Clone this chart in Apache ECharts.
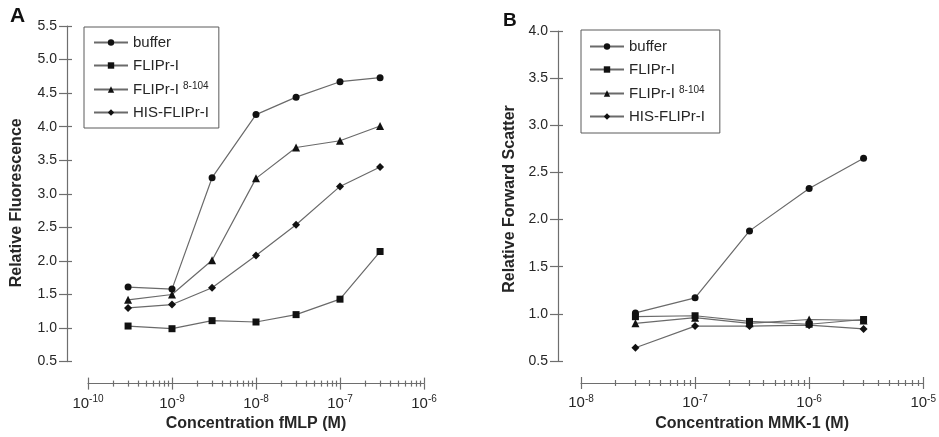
<!DOCTYPE html>
<html>
<head>
<meta charset="utf-8">
<script src="https://cdn.jsdelivr.net/npm/echarts@6/dist/echarts.min.js"></script>
<style>
  html, body { margin: 0; padding: 0; background: #ffffff; }
  #chart { width: 939px; height: 437px; }
</style>
</head>
<body>
<div id="chart"></div>
<script>
// Panel A: fMLP dose response (relative fluorescence)
const concA = [3e-10, 1e-9, 3e-9, 1e-8, 3e-8, 1e-7, 3e-7];
const bufferA = [1.61, 1.58, 3.24, 4.18, 4.44, 4.67, 4.73];
const flipA = [1.03, 0.99, 1.11, 1.09, 1.20, 1.43, 2.14];
const flip8A = [1.42, 1.50, 2.01, 3.23, 3.69, 3.79, 4.01];
const hisA = [1.30, 1.35, 1.60, 2.08, 2.54, 3.11, 3.40];

// Panel B: MMK-1 dose response (relative forward scatter)
const concB = [3e-8, 1e-7, 3e-7, 1e-6, 3e-6];
const bufferB = [1.01, 1.17, 1.88, 2.33, 2.65];
const flipB = [0.97, 0.98, 0.92, 0.89, 0.94];
const flip8B = [0.90, 0.96, 0.90, 0.94, 0.93];
const hisB = [0.64, 0.87, 0.87, 0.88, 0.84];

// Series names and log-axis tick positions
const seriesNames = ['buffer', 'FLIPr-I', 'FLIPr-I 8-104', 'HIS-FLIPr-I'];
const symbols = ['circle', 'rect', 'triangle', 'diamond'];
const symbolSizes = [7, 7, 8, 8];
const majorTicksA = [1e-10, 1e-9, 1e-8, 1e-7, 1e-6];
const majorTicksB = [1e-8, 1e-7, 1e-6, 1e-5];

function minorTicks(majors) {
  const out = [];
  for (let i = 0; i < majors.length - 1; i++) {
    for (let k = 2; k <= 9; k++) out.push(majors[i] * k);
  }
  return out;
}

const AXIS_COLOR = '#6e6e6e';
const TEXT_COLOR = '#262626';
const FONT = '"Liberation Sans", Arial, Helvetica, sans-serif';

function expLabel(v) {
  const e = Math.round(Math.log10(v));
  return '{b|10}{s|' + e + '}';
}

function xAxesFor(gridIndex, majors, name, nameGap, offset) {
  const base = {
    type: 'log', logBase: 10, gridIndex: gridIndex,
    min: majors[0], max: majors[majors.length - 1],
    position: 'bottom', offset: offset,
    splitLine: { show: false }, minorTick: { show: false }, minorSplitLine: { show: false },
    axisLine: { show: false }, axisLabel: { show: false }, axisTick: { show: false }
  };
  const tickLine = { color: AXIS_COLOR, width: 1.2 };
  const minors = minorTicks(majors);
  return [
    Object.assign({}, base, {
      axisLine: { show: true, lineStyle: tickLine },
      axisTick: { show: true, customValues: majors, length: 6, lineStyle: tickLine },
      axisLabel: {
        show: true, customValues: majors, margin: 11, formatter: expLabel,
        fontFamily: FONT, color: TEXT_COLOR,
        rich: {
          b: { fontSize: 15, lineHeight: 18, fontFamily: FONT, color: TEXT_COLOR },
          s: { fontSize: 10, lineHeight: 11, verticalAlign: 'top', fontFamily: FONT, color: TEXT_COLOR }
        }
      },
      name: name, nameLocation: 'middle', nameGap: nameGap,
      nameTextStyle: { fontFamily: FONT, fontSize: 16, fontWeight: 'bold', color: TEXT_COLOR }
    }),
    Object.assign({}, base, {
      axisTick: { show: true, inside: true, customValues: majors, length: 6, lineStyle: tickLine }
    }),
    Object.assign({}, base, {
      axisTick: { show: true, customValues: minors, length: 3, lineStyle: tickLine }
    }),
    Object.assign({}, base, {
      axisTick: { show: true, inside: true, customValues: minors, length: 3, lineStyle: tickLine }
    })
  ];
}

function yAxesFor(gridIndex, min, max, name, nameGap, offset, namePad) {
  const tickLine = { color: AXIS_COLOR, width: 1.2 };
  const base = {
    type: 'value', gridIndex: gridIndex, min: min, max: max, interval: 0.5,
    position: 'left', offset: offset, splitLine: { show: false }
  };
  return [
    Object.assign({}, base, {
      axisLine: { show: true, lineStyle: tickLine },
      axisTick: { show: true, length: 8, lineStyle: tickLine },
      axisLabel: {
        show: true, margin: 10, fontSize: 14, fontFamily: FONT, color: TEXT_COLOR,
        formatter: v => v.toFixed(1)
      },
      name: name, nameLocation: 'middle', nameGap: nameGap,
      nameTextStyle: {
        fontFamily: FONT, fontSize: 16, fontWeight: 'bold', color: TEXT_COLOR,
        padding: namePad
      }
    }),
    Object.assign({}, base, {
      axisLine: { show: false },
      axisTick: { show: true, inside: true, length: 5, lineStyle: tickLine },
      axisLabel: { show: false }
    })
  ];
}

function makeSeries(names, xs, valueSets, xAxisIndex, yAxisIndex) {
  return valueSets.map((vals, i) => ({
    name: names[i],
    type: 'line',
    xAxisIndex: xAxisIndex,
    yAxisIndex: yAxisIndex,
    data: xs.map((x, j) => [x, vals[j]]),
    symbol: symbols[i],
    symbolSize: symbolSizes[i],
    showAllSymbol: true,
    itemStyle: { color: '#111111' },
    lineStyle: { color: '#6a6a6a', width: 1.2 },
    emphasis: { disabled: true },
    z: 3
  }));
}

function legendFor(left, top, padding, gap) {
  return {
    show: true,
    orient: 'vertical',
    left: left, top: top,
    data: seriesNames,
    itemWidth: 34, itemHeight: 8, itemGap: gap,
    padding: padding,
    borderColor: '#5a5a5a', borderWidth: 1,
    selectedMode: false,
    formatter: n => n === 'FLIPr-I 8-104' ? '{n|FLIPr-I }{s|8-104}' : '{n|' + n + '}',
    textStyle: {
      fontFamily: FONT, color: TEXT_COLOR,
      rich: {
        n: { fontSize: 15, lineHeight: 17, fontFamily: FONT, color: TEXT_COLOR },
        s: { fontSize: 10, lineHeight: 10, verticalAlign: 'top', fontFamily: FONT, color: TEXT_COLOR }
      }
    }
  };
}

const chart = echarts.init(document.getElementById('chart'), null, { renderer: 'canvas' });

chart.setOption({
  animation: false,
  backgroundColor: '#ffffff',
  grid: [
    { left: 88, top: 26, width: 336, height: 338 },
    { left: 581, top: 31, width: 344, height: 330 }
  ],
  xAxis: [].concat(
    xAxesFor(0, majorTicksA, 'Concentration fMLP (M)', 31, 22),
    xAxesFor(1, majorTicksB, 'Concentration MMK-1 (M)', 31, 22)
  ),
  yAxis: [].concat(
    yAxesFor(0, 0.5, 5.5, 'Relative Fluorescence', 42, 21, [0, 18, 0, 0]),
    yAxesFor(1, 0.5, 4.0, 'Relative Forward Scatter', 40, 23, [0, 6, 0, 0])
  ),
  legend: [
    legendFor(84, 27, [8, 10, 8, 9], 8),
    legendFor(581, 30, [9, 15, 9, 8], 8)
  ],
  graphic: [
    { type: 'text', left: 10, top: 6, style: { text: 'A', font: 'bold 21px ' + FONT, fill: '#111' } },
    { type: 'text', left: 503, top: 11, style: { text: 'B', font: 'bold 19px ' + FONT, fill: '#111' } }
  ],
  series: [].concat(
    makeSeries(seriesNames, concA, [bufferA, flipA, flip8A, hisA], 0, 0),
    makeSeries(seriesNames, concB, [bufferB, flipB, flip8B, hisB], 4, 2)
  )
});
</script>
</body>
</html>
